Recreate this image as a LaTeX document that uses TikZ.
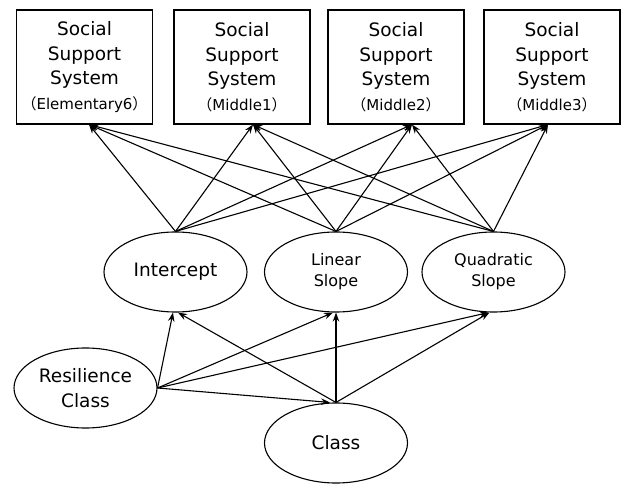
\documentclass[tikz,border=0pt]{standalone}
\usepackage{fontspec}
\setmainfont{DejaVu Sans}
\newfontfamily\krfont{Noto Sans CJK KR}
\usetikzlibrary{shapes.geometric,arrows.meta}
\tikzstyle{sssbox}=[draw=black,line width=1.1pt,rectangle,minimum width=136pt,minimum height=114pt,inner sep=0pt,align=center,font=\fontsize{18.5}{24.5}\selectfont]
\tikzstyle{factor}=[draw=black,line width=1.1pt,ellipse,minimum width=143pt,minimum height=80pt,inner sep=0pt,align=center,font=\fontsize{18.5}{24.5}\selectfont]
\tikzstyle{small}=[font=\fontsize{16}{21}\selectfont]
\tikzstyle{load}=[-{Stealth[length=9pt,width=6.5pt]},line width=1.1pt]
\newcommand{\wave}[1]{{\fontsize{15}{19}\selectfont{\krfont （}#1{\krfont ）}}}

\begin{document}
\begin{tikzpicture}[x=1pt,y=-1pt]
  \useasboundingbox (0,0) rectangle (624,486);

  \node[sssbox] (b1) at (84.5,67) {Social\\Support\\System\\\wave{Elementary6}};
  \node[sssbox] (b2) at (242,67) {Social\\Support\\System\\\wave{Middle1}};
  \node[sssbox] (b3) at (396,67) {Social\\Support\\System\\\wave{Middle2}};
  \node[sssbox] (b4) at (552,67) {Social\\Support\\System\\\wave{Middle3}};

  \node[factor] (int) at (175.5,272) {Intercept};
  \node[factor,small] (lin) at (336,272) {Linear\\Slope};
  \node[factor,small] (quad) at (493.5,272) {Quadratic\\Slope};

  \node[factor] (res) at (85.5,388) {Resilience\\Class};
  \node[factor] (cls) at (336,443) {Class};

  \coordinate (t1) at ([xshift=4.5pt]b1.south);
  \coordinate (t2) at ([xshift=11pt]b2.south);
  \coordinate (t3) at ([xshift=16pt]b3.south);
  \coordinate (t4) at ([xshift=-4pt]b4.south);

  \foreach \f in {int,lin,quad}
    \foreach \t in {t1,t2,t3,t4}
      \draw[load] (\f.north) -- (\t);

  \draw[load] (res.east) -- ([xshift=-2.5pt]int.south);
  \draw[load] (res.east) -- ([xshift=-3pt]lin.south);
  \draw[load] (res.east) -- ([xshift=-5pt]quad.south);
  \draw[load] (res.east) -- ([xshift=-6pt]cls.north);

  \draw[load] (cls.north) -- ([xshift=2.5pt]int.south);
  \draw[load] (cls.north) -- (lin.south);
  \draw[load] (cls.north) -- ([xshift=-4pt]quad.south);
\end{tikzpicture}
\end{document}
